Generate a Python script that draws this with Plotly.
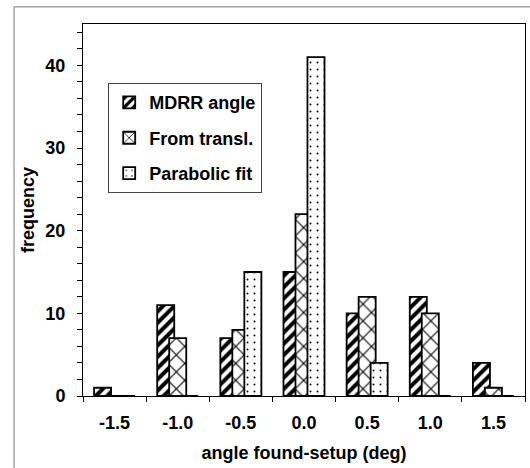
import plotly.graph_objects as go

# Histogram of angle differences (found minus setup), three estimation methods
bins = ["-1.5", "-1.0", "-0.5", "0.0", "0.5", "1.0", "1.5"]
mdrr_angle = [1, 11, 7, 15, 10, 12, 4]
from_transl = [0, 7, 8, 22, 12, 10, 1]
parabolic_fit = [0, 0, 15, 41, 4, 0, 0]

y_ticks = [0, 10, 20, 30, 40]

FONT = "Liberation Sans, Arial, sans-serif"
pos = list(range(len(bins)))
bar_w = 0.27

series = [
    ("MDRR angle", mdrr_angle, -0.19, dict(shape="/", size=8, solidity=0.5)),
    ("From transl.", from_transl, 0.0, dict(shape="x", size=12, solidity=0.18)),
    ("Parabolic fit", parabolic_fit, 0.19, dict(shape=".", size=7, solidity=0.06)),
]

fig = go.Figure()
for i, (name, vals, shift, pat) in enumerate(series):
    fig.add_trace(go.Bar(
        x=pos, y=vals, name=name,
        width=bar_w, offset=shift - bar_w / 2,
        legendgroup=f"g{i}",
        marker=dict(
            color="white",
            line=dict(color="black", width=1.8),
            pattern=dict(fgcolor="black", bgcolor="white", fgopacity=1, **pat),
        ),
    ))

# thin frame around the whole figure
fig.add_shape(type="rect", xref="paper", yref="paper",
              x0=-0.156, x1=1.05, y0=-0.3, y1=1.046,
              line=dict(color="#777777", width=1), layer="below")

fig.update_layout(
    width=530, height=468,
    margin=dict(l=83, r=5, t=24, b=72),
    paper_bgcolor="white", plot_bgcolor="white",
    barmode="overlay",
    font=dict(family=FONT, size=18, color="black", weight="bold"),
    showlegend=True,
    legend=dict(
        x=0.057, y=0.841, xanchor="left", yanchor="top",
        bgcolor="white", bordercolor="#444444", borderwidth=1,
        font=dict(family=FONT, size=18, color="black", weight="bold"),
        traceorder="grouped", tracegroupgap=9,
        itemwidth=30,
    ),
    xaxis=dict(
        range=[-0.5, len(bins) - 0.5],
        tickmode="array", tickvals=pos, ticktext=bins,
        ticks="", ticklabelstandoff=10,
        tickfont=dict(family=FONT, size=18, weight="bold"),
        minor=dict(tickmode="array",
                   tickvals=[p - 0.5 for p in pos] + [len(bins) - 0.5],
                   ticks="outside", ticklen=5, tickcolor="black"),
        showline=True, linecolor="black", linewidth=1, mirror=True,
        showgrid=False, zeroline=False,
        title=dict(text="angle found-setup (deg)", standoff=14,
                   font=dict(family=FONT, size=18, weight="bold")),
    ),
    yaxis=dict(
        range=[0, 45],
        tickmode="array", tickvals=y_ticks,
        ticks="outside", ticklen=5, tickcolor="black",
        ticklabelstandoff=8,
        tickfont=dict(family=FONT, size=18, weight="bold"),
        minor=dict(dtick=2, ticks="outside", ticklen=5, tickcolor="black"),
        showline=True, linecolor="black", linewidth=1, mirror=True,
        showgrid=False, zeroline=False,
        title=dict(text="frequency", standoff=6,
                   font=dict(family=FONT, size=18, weight="bold")),
    ),
)

fig.write_html("out.html")
